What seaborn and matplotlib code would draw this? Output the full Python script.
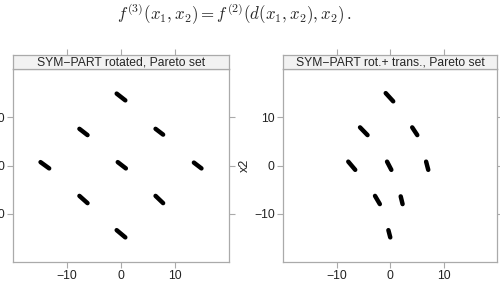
import pandas as pd
import numpy as np
import matplotlib
matplotlib.use('Agg')
import matplotlib.pyplot as plt
import seaborn as sns

# Pareto set segments: (x start, x end, y start, y end)
rot_x0 = [-0.8, -7.7, 6.4, -14.9, -0.6, 13.5, -7.7, 6.4, -0.8]
rot_x1 = [0.8, -6.2, 7.8, -13.3, 0.9, 14.9, -6.2, 7.8, 0.8]
rot_y0 = [14.9, 7.6, 7.6, 0.7, 0.7, 0.6, -6.3, -6.3, -13.4]
rot_y1 = [13.5, 6.3, 6.4, -0.6, -0.6, -0.6, -7.8, -7.8, -14.9]

tr_x0 = [-0.8, -5.6, 4.15, -7.8, -0.55, 6.75, -2.8, 2.0, -0.3]
tr_x1 = [0.6, -4.2, 5.1, -6.5, 0.25, 7.15, -1.9, 2.35, 0.05]
tr_y0 = [15.0, 7.9, 7.9, 0.8, 0.8, 0.8, -6.3, -6.4, -13.4]
tr_y1 = [13.3, 6.3, 6.3, -0.9, -0.9, -0.9, -8.0, -8.0, -14.9]

titles = ['SYM\u2212PART rotated, Pareto set', 'SYM\u2212PART rot.+ trans., Pareto set']
ticks = [-10, 0, 10]
tick_labels = ['\u221210', '0', '10']


def seg_frame(x0, x1, y0, y1):
    rows = []
    for i in range(len(x0)):
        rows.append({'seg': i, 'x1': x0[i], 'x2': y0[i]})
        rows.append({'seg': i, 'x1': x1[i], 'x2': y1[i]})
    return pd.DataFrame(rows)


frames = [seg_frame(rot_x0, rot_x1, rot_y0, rot_y1),
          seg_frame(tr_x0, tr_x1, tr_y0, tr_y1)]

sns.set_style('white')
plt.rcParams['font.family'] = ['Liberation Sans', 'DejaVu Sans']
plt.rcParams['mathtext.fontset'] = 'cm'

W, H = 500, 283
fig = plt.figure(figsize=(5, 2.83), dpi=100)
fig.text(234 / W, 1 - 14 / H, r'$f^{(3)}(x_1, x_2) = f^{(2)}(d(x_1, x_2), x_2)\,.$',
         ha='center', va='center', fontsize=12.2)

edge = '#aaaaaa'
panels = [(13, 229), (283, 497)]
for k, (left, right) in enumerate(panels):
    ax = fig.add_axes([left / W, 1 - 262 / H, (right - left) / W, (262 - 69) / H])
    sns.lineplot(data=frames[k], x='x1', y='x2', units='seg', estimator=None, sort=False,
                 color='black', linewidth=3.2, solid_capstyle='round', ax=ax)
    ax.set_xlim(-20, 20)
    ax.set_ylim(-20, 20)
    ax.set_xticks(ticks)
    ax.set_xticklabels(tick_labels)
    ax.set_yticks(ticks)
    ax.set_yticklabels(tick_labels)
    ax.set_xlabel('')
    ax.set_ylabel('')
    ax.tick_params(axis='both', direction='out', length=4, width=0.8, color=edge,
                   labelsize=8.8, labelcolor='#222222', pad=2,
                   bottom=True, left=True, right=True, top=False)
    for s in ax.spines.values():
        s.set_color(edge)
        s.set_linewidth(0.9)

    strip = fig.add_axes([left / W, 1 - 69 / H, (right - left) / W, 14 / H])
    strip.set_facecolor('#f2f2f2')
    strip.set_xlim(-20, 20)
    strip.set_xticks(ticks)
    strip.set_yticks([])
    strip.tick_params(axis='x', direction='out', length=4, width=0.8, color=edge,
                      bottom=False, top=True, labelbottom=False, labeltop=False)
    for s in strip.spines.values():
        s.set_color(edge)
        s.set_linewidth(0.9)
    strip.text(0.5, 0.45, titles[k], transform=strip.transAxes, ha='center', va='center',
               fontsize=8.7)

fig.text(245 / W, 1 - 165.7 / H, 'x2', rotation=90, ha='center', va='center',
         fontsize=9, color='#222222')

fig.savefig('out.png', dpi=100)
